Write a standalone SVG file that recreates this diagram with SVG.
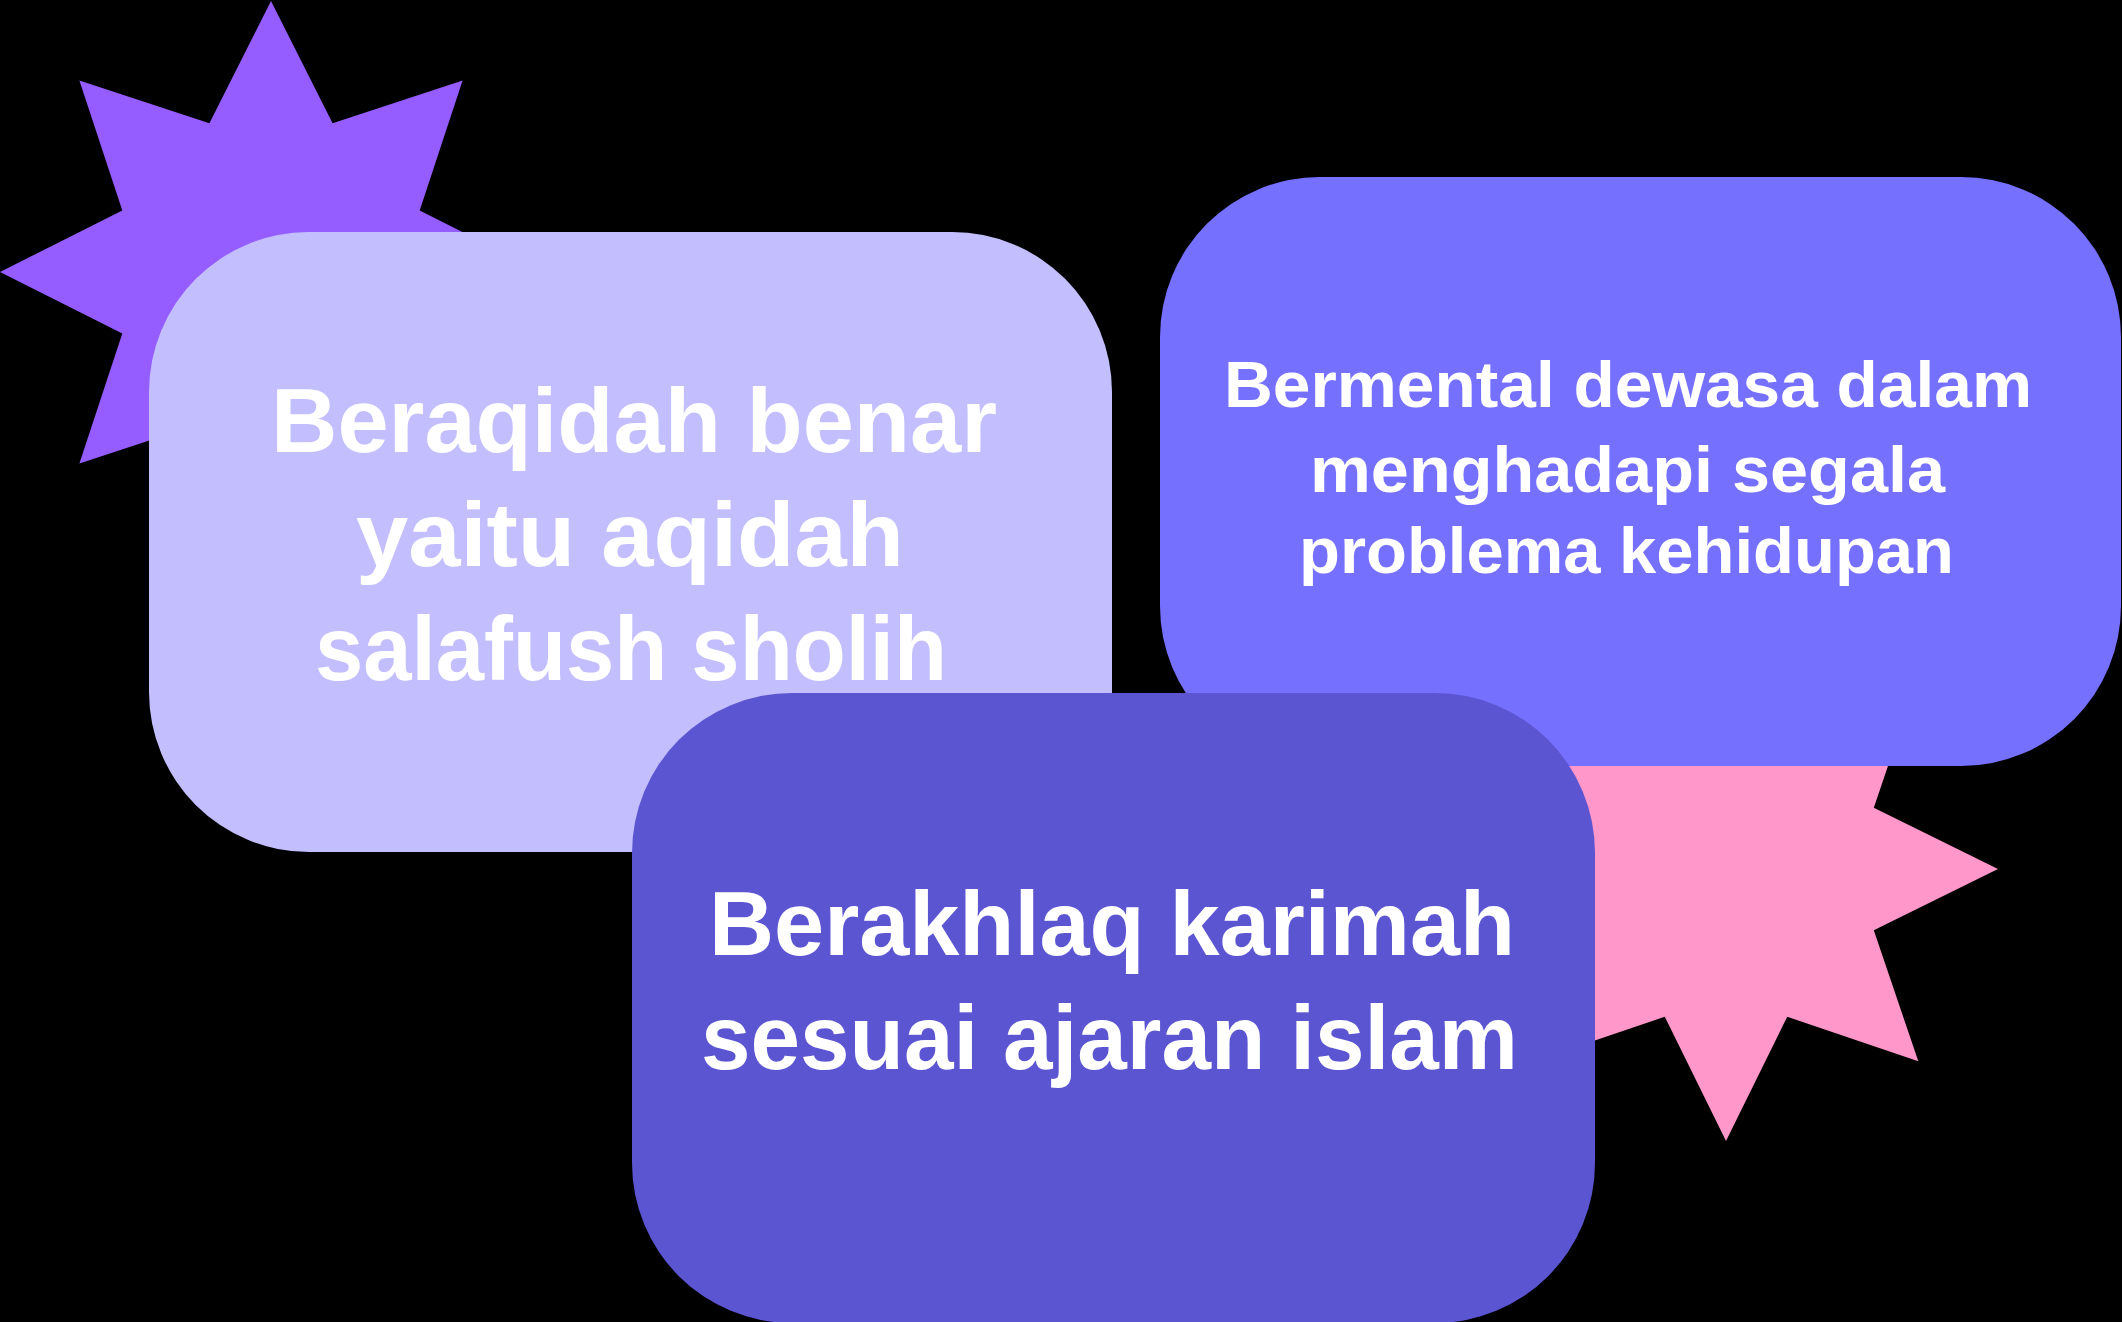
<svg xmlns="http://www.w3.org/2000/svg" width="2122" height="1322" viewBox="0 0 2122 1322">
  <style>
    .lbl { font-family: "Liberation Sans", Arial, sans-serif; font-weight: 700; fill: #FFFFFF; }
    .big { font-size: 90px; }
    .mid { font-size: 64px; }
  </style>
  <rect x="0" y="0" width="2122" height="1322" fill="#000000"/>
  <g id="star-purple">
    <polygon fill="#955DFF" points="271,1 332.6,123.3 462.6,80.4 419.7,210.4 542,272 419.7,333.6 462.6,463.6 332.6,420.7 271,543 209.4,420.7 79.4,463.6 122.3,333.6 0,272 122.3,210.4 79.4,80.4 209.4,123.3"/>
  </g>
  <g id="star-pink">
    <polygon fill="#FF97CA" points="1726,597 1787.2,721.2 1918.3,676.7 1873.8,807.8 1998,869 1873.8,930.2 1918.3,1061.3 1787.2,1016.8 1726,1141 1664.8,1016.8 1533.7,1061.3 1578.2,930.2 1454,869 1578.2,807.8 1533.7,676.7 1664.8,721.2"/>
  </g>
  <g id="node-aqidah">
    <rect x="149" y="232" width="963" height="620" rx="160" ry="160" fill="#C3BFFF"/>
    <text class="lbl big" x="271" y="452" textLength="726" lengthAdjust="spacingAndGlyphs">Beraqidah benar</text>
    <text class="lbl big" x="356" y="566" textLength="548" lengthAdjust="spacingAndGlyphs">yaitu aqidah</text>
    <text class="lbl big" x="315" y="680" textLength="632" lengthAdjust="spacingAndGlyphs">salafush sholih</text>
  </g>
  <g id="node-mental">
    <rect x="1160" y="177" width="961" height="589" rx="160" ry="160" fill="#7670FF"/>
    <text class="lbl mid" x="1224" y="407" textLength="808" lengthAdjust="spacingAndGlyphs">Bermental dewasa dalam</text>
    <text class="lbl mid" x="1310" y="492" textLength="635" lengthAdjust="spacingAndGlyphs">menghadapi segala</text>
    <text class="lbl mid" x="1299" y="573" textLength="655" lengthAdjust="spacingAndGlyphs">problema kehidupan</text>
  </g>
  <g id="node-akhlaq">
    <rect x="632" y="693" width="963" height="630" rx="160" ry="160" fill="#5C55D2"/>
    <text class="lbl big" x="709" y="955" textLength="806" lengthAdjust="spacingAndGlyphs">Berakhlaq karimah</text>
    <text class="lbl big" x="701" y="1069" textLength="817" lengthAdjust="spacingAndGlyphs">sesuai ajaran islam</text>
  </g>
  <g id="connectors"/>
</svg>
